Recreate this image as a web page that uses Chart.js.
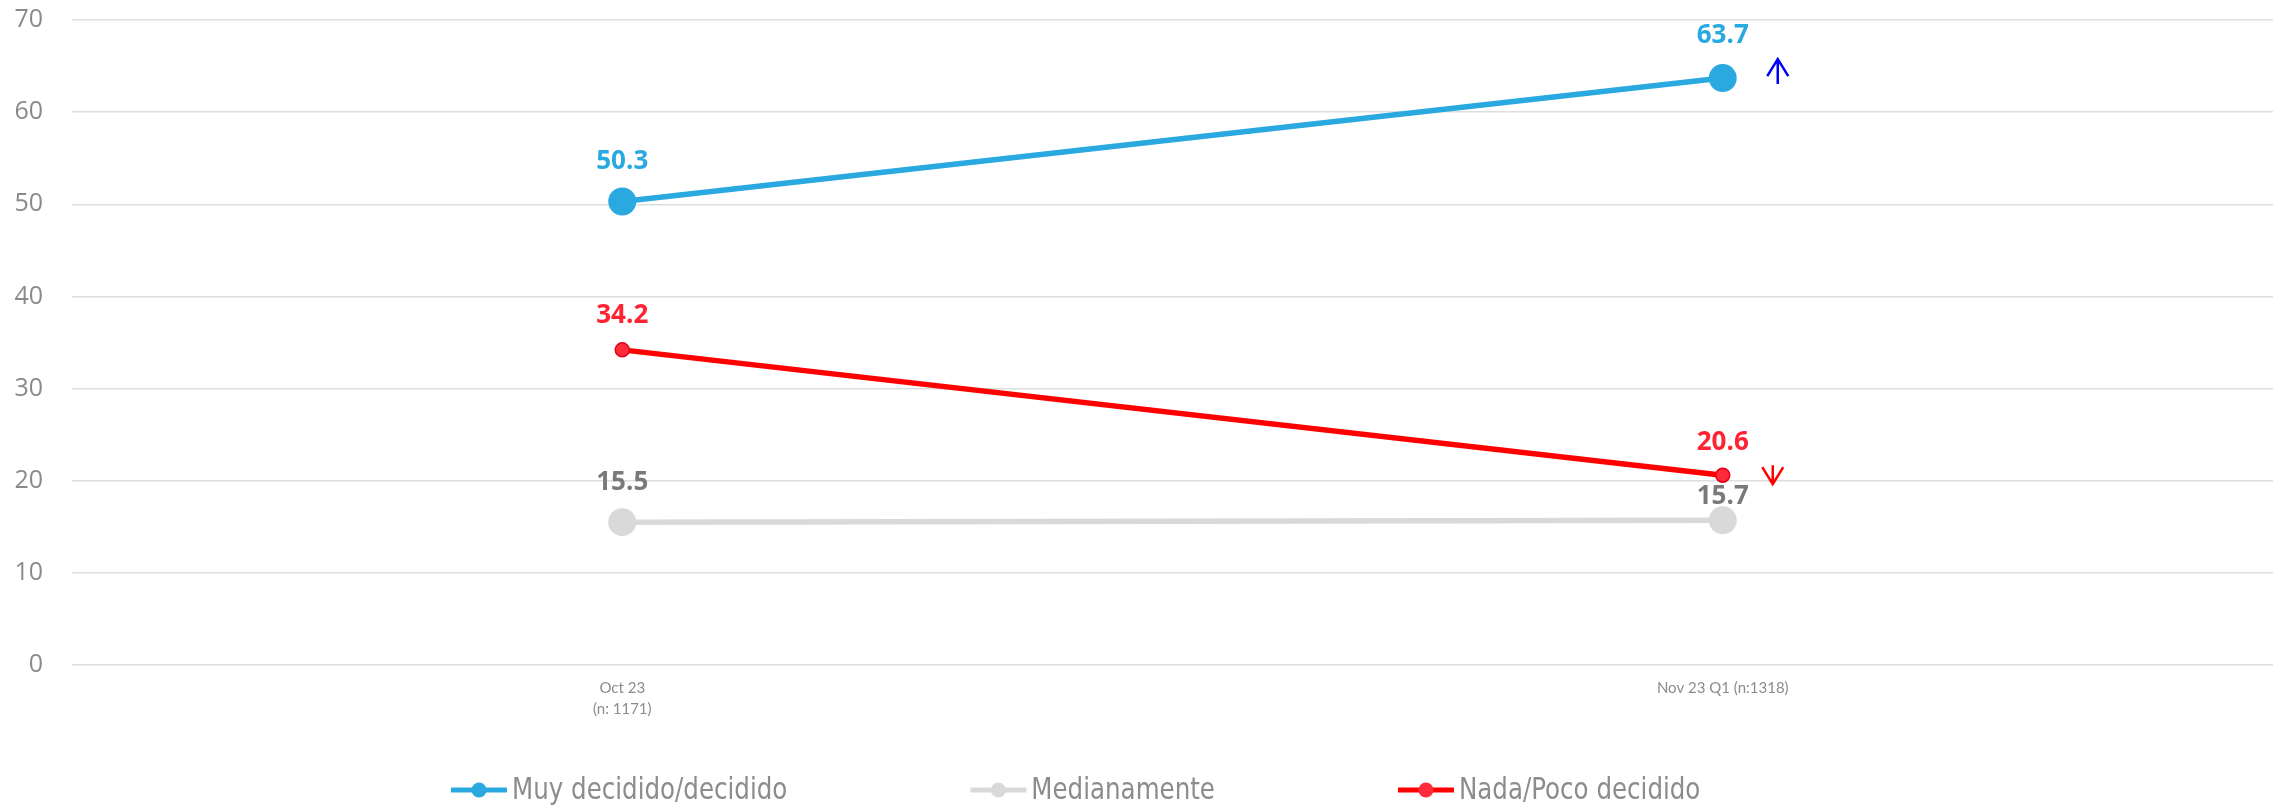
<!DOCTYPE html>
<html>
<head>
<meta charset="utf-8">
<script src="https://cdn.jsdelivr.net/npm/chart.js@4.4.1/dist/chart.umd.min.js"></script>
<style>
  html, body { margin: 0; padding: 0; background: #ffffff; }
  #wrap { width: 2287px; height: 805px; position: relative; }
</style>
</head>
<body>
<div id="wrap"><canvas id="c" width="2287" height="805"></canvas></div>
<script>
// ---- data ----
const categories = [["Oct 23", "(n: 1171)"], "Nov 23 Q1 (n:1318)"];
const seriesNames = ["Muy decidido/decidido", "Medianamente", "Nada/Poco decidido"];
const muyDecidido = [50.3, 63.7];
const medianamente = [15.5, 15.7];
const nadaPoco = [34.2, 20.6];
const yTicks = { min: 0, max: 70, step: 10 };
// trend arrows on the last category: dataset index, direction
const trendArrows = [
  { dataset: 0, index: 1, dir: "up" },
  { dataset: 2, index: 1, dir: "down" }
];

// ---- styles ----
const BLUE = "#29A9E0";
const GRAY = "#D9D9D9";
const RED = "#FF0000";
const labelColors = ["#29A9E0", "#7A7A7A", "#FF2233"];
const labelOffsets = [[40, 42], [40, 24], [34, 33]];
const arrowStyle = {
  0: { color: "#0000FF", dx: 55, tip: -19, tail: 6 },
  2: { color: "#FF0000", dx: 50, tip: 9, tail: -10 }
};

const dataLabelPlugin = {
  id: "dataLabels",
  afterDatasetsDraw(chart) {
    const ctx = chart.ctx;
    ctx.save();
    ctx.font = "700 26px 'Open Sans', sans-serif";
    ctx.textAlign = "center";
    ctx.textBaseline = "middle";
    chart.data.datasets.forEach((ds, di) => {
      const meta = chart.getDatasetMeta(di);
      meta.data.forEach((pt, i) => {
        ctx.fillStyle = labelColors[di];
        ctx.fillText(ds.data[i].toFixed(1), pt.x, pt.y - labelOffsets[di][i]);
      });
    });
    // arrows
    trendArrows.forEach(a => {
      const st = arrowStyle[a.dataset];
      const pt = chart.getDatasetMeta(a.dataset).data[a.index];
      const x = pt.x + st.dx;
      const yTip = pt.y + st.tip;
      const yTail = pt.y + st.tail;
      const s = a.dir === "up" ? 1 : -1;
      ctx.strokeStyle = st.color;
      ctx.lineWidth = 2.5;
      ctx.lineCap = "butt";
      ctx.beginPath();
      ctx.moveTo(x, yTail);
      ctx.lineTo(x, yTip);
      ctx.moveTo(x - 10.5, yTip + s * 17);
      ctx.lineTo(x, yTip);
      ctx.lineTo(x + 10.5, yTip + s * 17);
      ctx.stroke();
    });
    ctx.restore();
  }
};

const legendPlugin = {
  id: "customLegend",
  afterDraw(chart) {
    const ctx = chart.ctx;
    ctx.save();
    ctx.font = "31px 'Liberation Sans Narrow', 'DejaVu Sans Condensed', sans-serif";
    ctx.textBaseline = "middle";
    ctx.textAlign = "left";
    const squeeze = 0.88;
    const y = 790;
    let x = 451;
    chart.data.datasets.forEach((ds, di) => {
      ctx.strokeStyle = ds.borderColor;
      ctx.lineWidth = 5;
      ctx.beginPath();
      ctx.moveTo(x, y);
      ctx.lineTo(x + 56, y);
      ctx.stroke();
      ctx.fillStyle = ds.pointBackgroundColor;
      ctx.beginPath();
      ctx.arc(x + 28, y, 7.5, 0, Math.PI * 2);
      ctx.fill();
      ctx.fillStyle = "#8C8C8C";
      ctx.save();
      ctx.translate(x + 61, y + 1);
      ctx.scale(squeeze, 1);
      ctx.fillText(ds.label, 0, 0);
      ctx.restore();
      const w = ctx.measureText(ds.label).width * squeeze;
      x += 61 + w + 183;
    });
    ctx.restore();
  }
};

new Chart(document.getElementById("c"), {
  type: "line",
  data: {
    labels: categories,
    datasets: [
      {
        label: seriesNames[0], data: muyDecidido,
        borderColor: BLUE, backgroundColor: BLUE, borderWidth: 5.5,
        pointRadius: 14, pointBackgroundColor: BLUE, pointBorderColor: BLUE, pointBorderWidth: 0
      },
      {
        label: seriesNames[1], data: medianamente,
        borderColor: GRAY, backgroundColor: GRAY, borderWidth: 5.5,
        pointRadius: 14, pointBackgroundColor: GRAY, pointBorderColor: GRAY, pointBorderWidth: 0
      },
      {
        label: seriesNames[2], data: nadaPoco,
        borderColor: RED, backgroundColor: RED, borderWidth: 5.5,
        pointRadius: 7, pointBackgroundColor: "#FF2A3A", pointBorderColor: "#E00018", pointBorderWidth: 1.5
      }
    ]
  },
  options: {
    responsive: false,
    animation: false,
    devicePixelRatio: 1,
    layout: { padding: { top: 20, right: 4, bottom: 70, left: 0 } },
    plugins: {
      legend: { display: false },
      tooltip: { enabled: false }
    },
    scales: {
      x: {
        type: "category",
        offset: true,
        grid: { display: false, drawTicks: false },
        border: { display: false },
        ticks: {
          autoSkip: false, maxRotation: 0, minRotation: 0, padding: 12,
          color: "#8C8C8C",
          font: { family: "Lato, 'Open Sans', sans-serif", size: 15, lineHeight: 1.45 }
        },
        afterFit(s) { s.height = 70; s.paddingLeft = 0; s.paddingRight = 0; }
      },
      y: {
        min: yTicks.min, max: yTicks.max,
        grid: { color: "#DEDEDE", lineWidth: 1.5, drawTicks: false },
        border: { display: false },
        ticks: {
          stepSize: yTicks.step, padding: 29,
          color: "#8A8A8A",
          font: { family: "'Open Sans', sans-serif", size: 25 }
        },
        afterFit(s) { s.width = 72; s.paddingTop = 0; s.paddingBottom = 0; }
      }
    }
  },
  plugins: [dataLabelPlugin, legendPlugin]
});
</script>
</body>
</html>
